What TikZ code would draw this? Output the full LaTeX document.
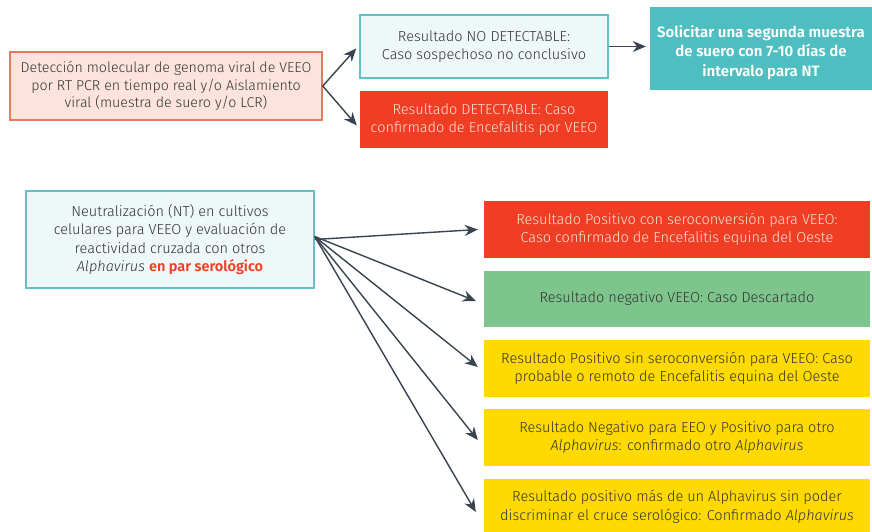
\documentclass[tikz,border=0pt]{standalone}
\usepackage{fontspec}
\setmainfont{Fira Sans Light}[BoldFont={Fira Sans SemiBold},ItalicFont={Fira Sans Light Italic},BoldItalicFont={Fira Sans SemiBold Italic}]
\usetikzlibrary{arrows.meta}
\definecolor{salfill}{HTML}{FCE4DC}
\definecolor{salline}{HTML}{E57A62}
\definecolor{cyfill}{HTML}{EEF8F8}
\definecolor{cyline}{HTML}{62C3C6}
\definecolor{redbox}{HTML}{EF3E23}
\definecolor{redtext}{HTML}{FFE2DA}
\definecolor{teal}{HTML}{4EBEC1}
\definecolor{greenbox}{HTML}{7DC58C}
\definecolor{yellowbox}{HTML}{FFDA00}
\definecolor{darktext}{HTML}{333333}
\definecolor{arrowc}{HTML}{3A4350}
\tikzset{
  box/.style={inner sep=0pt, align=center, font=\fontsize{14.5}{18.5}\selectfont, text=darktext},
  salbox/.style={box, fill=salfill, draw=salline, line width=1.5pt, font=\fontsize{14.2}{17.5}\selectfont},
  cybox/.style={box, fill=cyfill, draw=cyline, line width=1.5pt},
  redfill/.style={box, fill=redbox, text=redtext},
  tealfill/.style={box, fill=teal, text=white, font=\fontsize{15}{19.5}\selectfont\bfseries},
  greenfill/.style={box, fill=greenbox},
  yellowfill/.style={box, fill=yellowbox},
  conn/.style={draw=arrowc, line width=1.4pt, -{Stealth[length=13pt,width=11pt]}}
}
\begin{document}
\begin{tikzpicture}[x=1pt,y=-1pt]
\useasboundingbox (0,0) rectangle (872,532);
\fill[white] (0,0) rectangle (872,532);
\node[salbox, minimum width=312pt, minimum height=68pt] (A) at (166,86)
  {Detección molecular de genoma viral de VEEO\\por RT PCR en tiempo real y/o Aislamiento\\viral (muestra de suero y/o LCR)};
\node[cybox, minimum width=248pt, minimum height=63pt] (B) at (484,46.5)
  {Resultado NO DETECTABLE:\\Caso sospechoso no conclusivo};
\node[redfill, minimum width=248pt, minimum height=57pt] (C) at (484,119.5)
  {Resultado DETECTABLE: Caso\\confirmado de Encefalitis por VEEO};
\node[tealfill, minimum width=222pt, minimum height=83pt] (D) at (761,48.5) {};
\node[tealfill, fill=none] (Dt) at (761,52.5)
  {Solicitar una segunda muestra\\de suero con 7-10 días de\\intervalo para NT};
\node[cybox, minimum width=288pt, minimum height=97pt] (E) at (170,239.5)
  {Neutralización (NT) en cultivos\\celulares para VEEO y evaluación de\\reactividad cruzada con otros\\\textit{Alphavirus} {\color{redbox}\bfseries en par serológico}};
\node[redfill, minimum width=386pt, minimum height=57pt] (F1) at (677,229.5)
  {Resultado Positivo con seroconversión para VEEO:\\Caso confirmado de Encefalitis equina del Oeste};
\node[greenfill, minimum width=386pt, minimum height=56pt] (F2) at (677,299)
  {Resultado negativo VEEO: Caso Descartado};
\node[yellowfill, minimum width=386pt, minimum height=57pt] (F3) at (677,368.5)
  {Resultado Positivo sin seroconversión para VEEO: Caso\\probable o remoto de Encefalitis equina del Oeste};
\node[yellowfill, minimum width=386pt, minimum height=57pt] (F4) at (677,437.5)
  {Resultado Negativo para EEO y Positivo para otro\\\textit{Alphavirus}: confirmado otro \textit{Alphavirus}};
\node[yellowfill, minimum width=386pt, minimum height=56pt] (F5) at (677,507)
  {Resultado positivo más de un Alphavirus sin poder\\discriminar el cruce serológico: Confirmado \textit{Alphavirus}};
\draw[conn] (A.east) -- ([xshift=-3pt,yshift=-2pt]B.west);
\draw[conn] (A.east) -- ([xshift=-3pt,yshift=-6pt]C.west);
\draw[conn] (B.east) -- ([xshift=-4pt]D.west |- B.east);
\draw[conn] (E.east) -- ([xshift=-6pt]F1.west);
\draw[conn] ([yshift=3pt]E.east) -- ([xshift=-8pt,yshift=-2pt]F2.west);
\draw[conn] ([yshift=3pt]E.east) -- ([xshift=-6pt,yshift=1.5pt]F3.west);
\draw[conn] ([yshift=3pt]E.east) -- ([xshift=-6pt,yshift=-2.5pt]F4.west);
\draw[conn] ([yshift=3pt]E.east) -- ([xshift=-8pt,yshift=-5pt]F5.west);
\end{tikzpicture}
\end{document}
